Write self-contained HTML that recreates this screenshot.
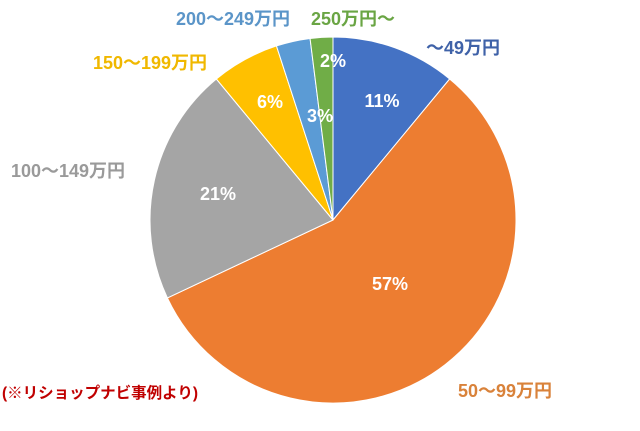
<!DOCTYPE html>
<html><head><meta charset="utf-8"><style>
body{margin:0;background:#fff;width:640px;height:426px;overflow:hidden}
svg text{font-family:"Liberation Sans","Noto Sans CJK JP",sans-serif;font-weight:bold}
</style></head><body>
<svg id="chart" width="640" height="426" viewBox="0 0 640 426"></svg>
<script>
const categories=["～49万円","50～99万円","100～149万円","150～199万円","200～249万円","250万円～"];
const values=[11,57,21,6,3,2];
const pctLabels=["11%","57%","21%","6%","3%","2%"];
const colors=["#4472c4","#ed7d31","#a5a5a5","#ffc000","#5b9bd5","#70ad47"];
const labelColors=["#3f62a8","#d9823a","#9a9a9a","#f0b800","#5b95c8","#6aa544"];
const labelPos=[[463,54],[505,397],[68,177],[150,69],[233,25],[353,25]];
const pctPos=[[382,107],[390,290],[218,200],[270,108],[320,122],[333,67]];
const svg=document.getElementById('chart');
const NS='http://www.w3.org/2000/svg';
const cx=333,cy=220,r=183;
const total=values.reduce((a,b)=>a+b,0);
function pt(a){return [cx+r*Math.sin(a),cy-r*Math.cos(a)];}
let acc=0;
values.forEach((v,i)=>{
  const a0=acc/total*2*Math.PI;acc+=v;const a1=acc/total*2*Math.PI;
  const p0=pt(a0),p1=pt(a1);
  const path=document.createElementNS(NS,'path');
  path.setAttribute('d',`M${cx},${cy}L${p0[0]},${p0[1]}A${r},${r} 0 ${a1-a0>Math.PI?1:0} 1 ${p1[0]},${p1[1]}Z`);
  path.setAttribute('fill',colors[i]);path.setAttribute('stroke','#fff');path.setAttribute('stroke-width','1');
  
  
  svg.appendChild(path);
});
values.forEach((v,i)=>{
  const t=document.createElementNS(NS,'text');
  t.setAttribute('x',pctPos[i][0]);t.setAttribute('y',pctPos[i][1]);
  t.setAttribute('text-anchor','middle');t.setAttribute('fill','#fff');t.setAttribute('font-size','18');
  t.textContent=pctLabels[i];
  
  
  svg.appendChild(t);
  const l=document.createElementNS(NS,'text');
  l.setAttribute('x',labelPos[i][0]);l.setAttribute('y',labelPos[i][1]);
  l.setAttribute('text-anchor','middle');l.setAttribute('fill',labelColors[i]);l.setAttribute('font-size','18');
  l.textContent=categories[i];
  
  
  svg.appendChild(l);
});
const n=document.createElementNS(NS,'text');
n.setAttribute('x',2);n.setAttribute('y',398);n.setAttribute('fill','#c00000');n.setAttribute('font-size','15.5');
n.textContent='(※リショップナビ事例より)';


svg.appendChild(n);
</script>
</body></html>
